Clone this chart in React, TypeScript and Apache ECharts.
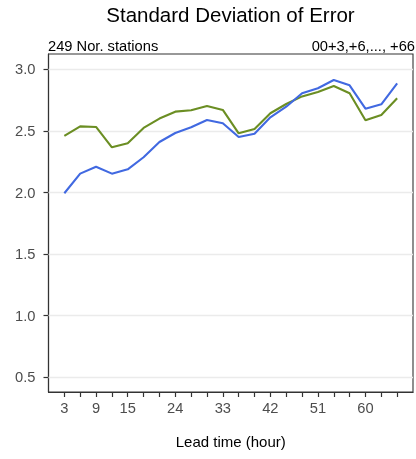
import React, { useEffect, useRef } from "react";
import * as echarts from "echarts";

const leadHours = [3, 6, 9, 12, 15, 18, 21, 24, 27, 30, 33, 36, 39, 42, 45, 48, 51, 54, 57, 60, 63, 66];
const blueValues = [1.994, 2.153, 2.209, 2.153, 2.188, 2.286, 2.41, 2.483, 2.529, 2.588, 2.562, 2.45, 2.477, 2.61, 2.696, 2.805, 2.846, 2.913, 2.87, 2.68, 2.716, 2.886];
const greenValues = [2.459, 2.537, 2.532, 2.367, 2.4, 2.524, 2.6, 2.656, 2.667, 2.702, 2.67, 2.48, 2.515, 2.643, 2.718, 2.78, 2.816, 2.864, 2.805, 2.586, 2.629, 2.765];
const xTickValues = [3, 6, 9, 12, 15, 18, 21, 24, 27, 30, 33, 36, 39, 42, 45, 48, 51, 54, 57, 60, 63, 66];
const xLabelValues = [3, 9, 15, 24, 33, 42, 51, 60];
const yTickValues = [0.5, 1.0, 1.5, 2.0, 2.5, 3.0];

const titleText = "Standard Deviation of Error";
const leftNote = "249 Nor. stations";
const rightNote = "00+3,+6,..., +66";
const xAxisTitle = "Lead time (hour)";

export default function App() {
  const ref = useRef<HTMLDivElement>(null);
  useEffect(() => {
    if (!ref.current) return;
    const chart = echarts.init(ref.current, null, { renderer: "svg" });
    const font = "Liberation Sans, Arial, Helvetica, sans-serif";
    chart.setOption({
      animation: false,
      textStyle: { fontFamily: font },
      grid: {
        left: 48.5,
        right: 3,
        top: 54,
        bottom: 67,
        show: true,
        borderColor: "#333333",
        borderWidth: 1.1,
        backgroundColor: "transparent",
      },
      title: {
        text: titleText,
        left: 230.5,
        top: 4,
        padding: 0,
        textAlign: "center",
        textStyle: { fontFamily: font, fontSize: 20.5, fontWeight: "normal", color: "#000" },
      },
      graphic: [
        {
          type: "text",
          left: 48,
          top: 38,
          style: { text: leftNote, font: `14.7px ${font}`, fill: "#000" },
        },
        {
          type: "text",
          right: 1,
          top: 38,
          style: { text: rightNote, font: `14.7px ${font}`, fill: "#000" },
        },
      ],
      xAxis: {
        type: "value",
        min: 0,
        max: 69,
        name: xAxisTitle,
        nameLocation: "middle",
        nameGap: 42,
        nameTextStyle: { fontFamily: font, fontSize: 15, color: "#000" },
        axisLine: { show: true, onZero: false, lineStyle: { color: "#333333", width: 1.2 } },
        axisTick: { show: true, length: 5, customValues: xTickValues, lineStyle: { color: "#333333", width: 1.2 } },
        axisLabel: {
          customValues: xLabelValues,
          margin: 8,
          fontFamily: font,
          fontSize: 14.7,
          color: "#4D4D4D",
        },
        splitLine: { show: false },
      },
      yAxis: {
        type: "value",
        min: 0.381,
        max: 3.124,
        axisLine: { show: true, onZero: false, lineStyle: { color: "#333333", width: 1.2 } },
        axisTick: { show: true, length: 5, customValues: yTickValues, lineStyle: { color: "#333333", width: 1.2 } },
        axisLabel: {
          customValues: yTickValues,
          margin: 13,
          fontFamily: font,
          fontSize: 14.7,
          color: "#4D4D4D",
          formatter: (v: number) => v.toFixed(1),
        },
        splitLine: { show: false },
      },
      series: [
        {
          type: "line",
          data: [],
          silent: true,
          markLine: {
            z: 1,
            silent: true,
            symbol: "none",
            label: { show: false },
            lineStyle: { color: "#EBEBEB", width: 1.4, type: "solid" },
            data: yTickValues.map((v) => ({ yAxis: v })),
          },
        },
        {
          type: "line",
          z: 3,
          data: leadHours.map((h, i) => [h, greenValues[i]]),
          showSymbol: false,
          lineStyle: { color: "#6B8E23", width: 2.1 },
          itemStyle: { color: "#6B8E23" },
        },
        {
          type: "line",
          z: 4,
          data: leadHours.map((h, i) => [h, blueValues[i]]),
          showSymbol: false,
          lineStyle: { color: "#4169E1", width: 2.1 },
          itemStyle: { color: "#4169E1" },
        },
      ],
    });
    return () => chart.dispose();
  }, []);
  return <div ref={ref} style={{ position: "fixed", left: 0, top: 0, width: 416, height: 459 }} />;
}
